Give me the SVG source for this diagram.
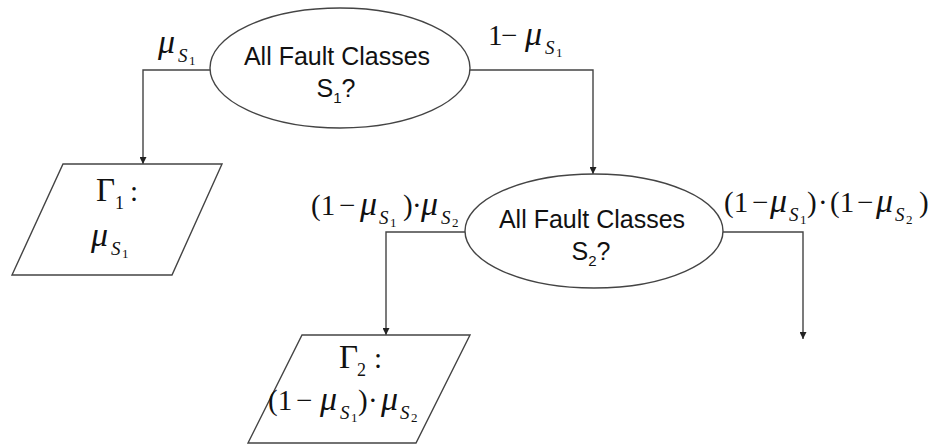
<svg xmlns="http://www.w3.org/2000/svg" width="931" height="444" viewBox="0 0 931 444">
<style>
.shape{fill:#fff;stroke:#444;stroke-width:1.4}
.conn{fill:none;stroke:#444;stroke-width:1.4}
.sans{font-family:"Liberation Sans",Arial,sans-serif;font-size:25px;fill:#111}
.m{font-family:"Liberation Serif","Times New Roman",serif;font-size:29px;fill:#111}
.i{font-style:italic;font-size:34px}
.s{font-size:19px;font-style:italic}
.s1{font-size:13px;font-style:normal}
.g{font-size:33px}
.gs{font-size:18px}
</style>
<defs>
<marker id="arr" viewBox="0 0 10 10" refX="10" refY="5" markerWidth="7" markerHeight="7" markerUnits="userSpaceOnUse" orient="auto">
<path d="M0,0 L10,5 L0,10 Z" fill="#222"/>
</marker>
</defs>
<rect width="931" height="444" fill="#fff"/>
<g id="connectors">
<polyline class="conn" points="210,70 143,70 143,164" marker-end="url(#arr)"/>
<polyline class="conn" points="470,70 593,70 593,174" marker-end="url(#arr)"/>
<polyline class="conn" points="465,232 386,232 386,335" marker-end="url(#arr)"/>
<polyline class="conn" points="723,232 803,232 803,339" marker-end="url(#arr)"/>
</g>
<g id="decision1">
<ellipse class="shape" cx="340" cy="68" rx="130" ry="60"/>
<text class="sans" x="337" y="65" text-anchor="middle">All Fault Classes</text>
<text class="sans" x="336" y="97" text-anchor="middle">S<tspan font-size="15" dy="6">1</tspan><tspan dy="-6">?</tspan></text>
</g>
<g id="decision2">
<ellipse class="shape" cx="594" cy="231" rx="129" ry="57"/>
<text class="sans" x="592" y="228" text-anchor="middle">All Fault Classes</text>
<text class="sans" x="591" y="260" text-anchor="middle">S<tspan font-size="15" dy="6">2</tspan><tspan dy="-6">?</tspan></text>
</g>
<g id="result1">
<polygon class="shape" points="63,164 222,164 172,275 12,275"/>
<text class="m"><tspan class="g" x="96" y="201">Γ</tspan><tspan class="gs" x="115" y="209">1</tspan><tspan x="130" y="201">:</tspan></text>
<text class="m"><tspan class="i" x="91" y="246">μ</tspan><tspan class="s" x="111" y="255">S</tspan><tspan class="s1" x="122" y="258">1</tspan></text>
</g>
<g id="result2">
<polygon class="shape" points="302,335 470,335 416,443 248,443"/>
<text class="m"><tspan class="g" x="339" y="368">Γ</tspan><tspan class="gs" x="357" y="376">2</tspan><tspan x="374" y="368">:</tspan></text>
<text class="m"><tspan x="268" y="410">(1</tspan><tspan x="296" y="410">−</tspan><tspan class="i" x="320" y="410">μ</tspan><tspan class="s" x="340" y="419">S</tspan><tspan class="s1" x="351" y="422">1</tspan><tspan x="358" y="410">)</tspan><tspan x="368" y="410">·</tspan><tspan class="i" x="381" y="410">μ</tspan><tspan class="s" x="400" y="419">S</tspan><tspan class="s1" x="411" y="422">2</tspan></text>
</g>
<g id="labels">
<text class="m"><tspan class="i" x="158" y="53">μ</tspan><tspan class="s" x="178" y="62">S</tspan><tspan class="s1" x="189" y="65">1</tspan></text>
<text class="m"><tspan x="488" y="45">1</tspan><tspan x="501" y="45">−</tspan><tspan class="i" x="525" y="45">μ</tspan><tspan class="s" x="545" y="54">S</tspan><tspan class="s1" x="556" y="57">1</tspan></text>
<text class="m"><tspan x="311" y="215">(1</tspan><tspan x="339" y="215">−</tspan><tspan class="i" x="360" y="215">μ</tspan><tspan class="s" x="379" y="224">S</tspan><tspan class="s1" x="390" y="227">1</tspan><tspan x="403" y="215">)</tspan><tspan x="412" y="215">·</tspan><tspan class="i" x="421" y="215">μ</tspan><tspan class="s" x="441" y="224">S</tspan><tspan class="s1" x="452" y="227">2</tspan></text>
<text class="m"><tspan x="724" y="212">(1</tspan><tspan x="752" y="212">−</tspan><tspan class="i" x="770" y="212">μ</tspan><tspan class="s" x="789" y="221">S</tspan><tspan class="s1" x="800" y="224">1</tspan><tspan x="807" y="212">)</tspan><tspan x="818" y="212">·</tspan><tspan x="830" y="212">(1</tspan><tspan x="857" y="212">−</tspan><tspan class="i" x="876" y="212">μ</tspan><tspan class="s" x="895" y="221">S</tspan><tspan class="s1" x="906" y="224">2</tspan><tspan x="919" y="212">)</tspan></text>
</g>
</svg>
